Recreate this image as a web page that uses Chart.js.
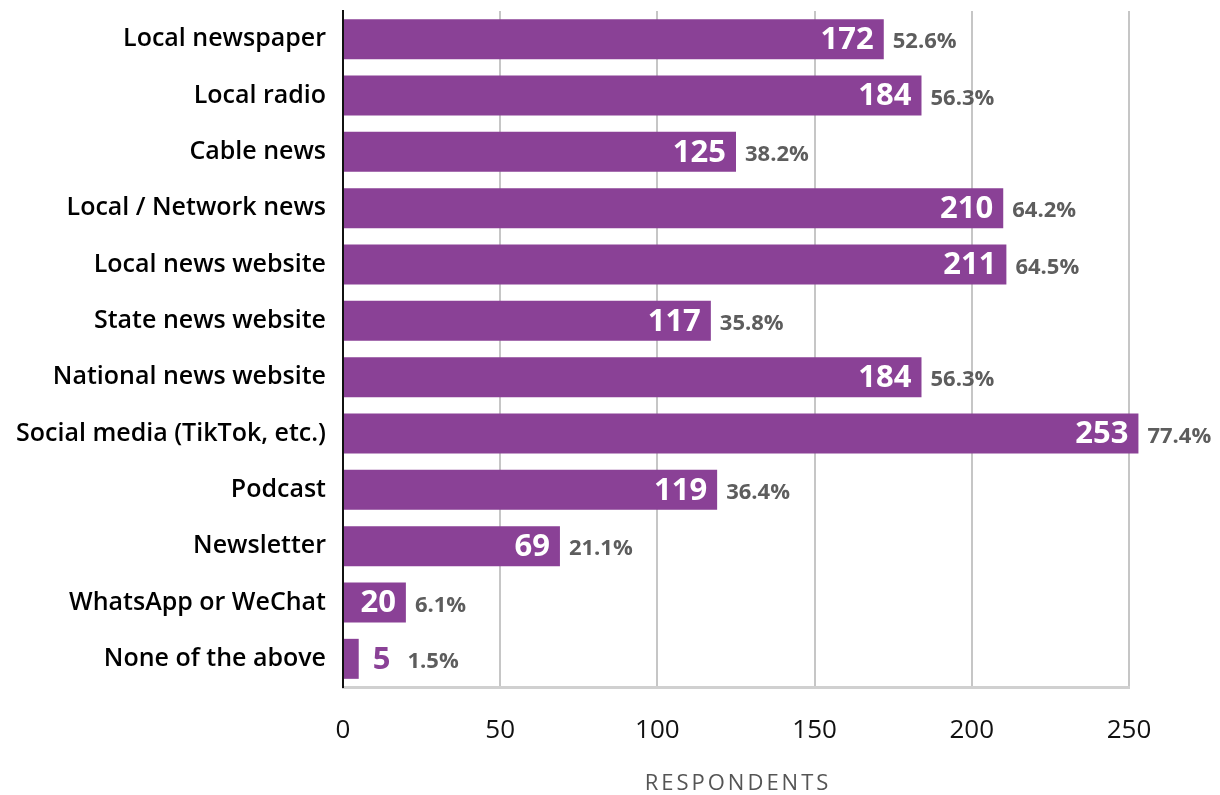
<!DOCTYPE html>
<html>
<head>
<meta charset="utf-8">
<script src="https://cdn.jsdelivr.net/npm/chart.js@4.4.1/dist/chart.umd.min.js"></script>
<style>
    html, body { margin: 0; padding: 0; background: #ffffff; }
    #wrap { width: 1220px; height: 795px; }
</style>
</head>
<body>
<div id="wrap"><canvas id="sourcesChart"></canvas></div>
<script>
const categories = [
    'Local newspaper',
    'Local radio',
    'Cable news',
    'Local / Network news',
    'Local news website',
    'State news website',
    'National news website',
    'Social media (TikTok, etc.)',
    'Podcast',
    'Newsletter',
    'WhatsApp or WeChat',
    'None of the above'
];
const respondents = [172, 184, 125, 210, 211, 117, 184, 253, 119, 69, 20, 5];
const shares = ['52.6%', '56.3%', '38.2%', '64.2%', '64.5%', '35.8%', '56.3%', '77.4%', '36.4%', '21.1%', '6.1%', '1.5%'];
const xTicks = [0, 50, 100, 150, 200, 250];
const xTitle = 'RESPONDENTS';

const FONT = "'Open Sans', sans-serif";
const PURPLE = '#8a4196';

// count inside the bar (white) and share to the right of it (gray)
const barLabels = {
    id: 'barLabels',
    afterDatasetsDraw(chart) {
        const ctx = chart.ctx;
        const meta = chart.getDatasetMeta(0);
        ctx.save();
        ctx.textBaseline = 'middle';
        meta.data.forEach((bar, i) => {
            const left = bar.base;
            const right = bar.x;
            const y = bar.y + 1;
            ctx.font = "700 31px " + FONT;
            const txt = String(respondents[i]);
            const w = ctx.measureText(txt).width;
            let end;
            if (right - left > w + 16) {
                ctx.fillStyle = '#ffffff';
                ctx.textAlign = 'right';
                ctx.fillText(txt, right - 10, y);
                end = right + 9;
            } else {
                ctx.fillStyle = PURPLE;
                ctx.textAlign = 'left';
                ctx.fillText(txt, right + 14, y);
                end = right + 14 + w + 17;
            }
            ctx.font = "700 22px " + FONT;
            ctx.fillStyle = '#5d5d5d';
            ctx.textAlign = 'left';
            ctx.fillText(shares[i], end, y + 2);
        });
        ctx.restore();
    }
};

// spaced-out axis title under the x ticks
const axisTitle = {
    id: 'axisTitle',
    afterDraw(chart) {
        const ctx = chart.ctx;
        const area = chart.chartArea;
        ctx.save();
        ctx.font = "400 22px " + FONT;
        ctx.letterSpacing = '3px';
        ctx.fillStyle = '#555555';
        ctx.textAlign = 'center';
        ctx.textBaseline = 'middle';
        ctx.fillText(xTitle, (area.left + area.right) / 2 + 2, 784);
        ctx.restore();
    }
};

function initChart() {
    new Chart(document.getElementById('sourcesChart'), {
        type: 'bar',
        data: {
            labels: categories,
            datasets: [{
                data: respondents,
                backgroundColor: PURPLE,
                borderWidth: 0,
                categoryPercentage: 1,
                barPercentage: 0.71,
                clip: false
            }]
        },
        plugins: [barLabels, axisTitle],
        options: {
            indexAxis: 'y',
            responsive: true,
            maintainAspectRatio: false,
            animation: false,
            layout: { padding: { top: 11, right: 91, left: 0, bottom: 0 } },
            plugins: {
                legend: { display: false },
                tooltip: { enabled: false }
            },
            scales: {
                x: {
                    min: 0,
                    max: 250,
                    afterBuildTicks(scale) {
                        scale.ticks = xTicks.map(v => ({ value: v }));
                    },
                    afterFit(scale) { scale.height = 108; },
                    grid: { color: '#c6c6c6', lineWidth: 2, drawTicks: false },
                    border: { color: '#d0d0d0', width: 3 },
                    ticks: {
                        color: '#111111',
                        padding: 28,
                        font: { family: FONT, size: 26, weight: '400' }
                    }
                },
                y: {
                    afterFit(scale) {
                        scale.width = 343;
                        scale.paddingTop = 0;
                        scale.paddingBottom = 0;
                    },
                    grid: { display: false, drawTicks: false },
                    border: { color: '#111111', width: 2 },
                    ticks: {
                        color: '#000000',
                        padding: 17,
                        font: { family: FONT, size: 25, weight: '600' }
                    }
                }
            }
        }
    });
}

if (document.readyState === 'loading') {
    document.addEventListener('DOMContentLoaded', initChart);
} else {
    initChart();
}
</script>
</body>
</html>
